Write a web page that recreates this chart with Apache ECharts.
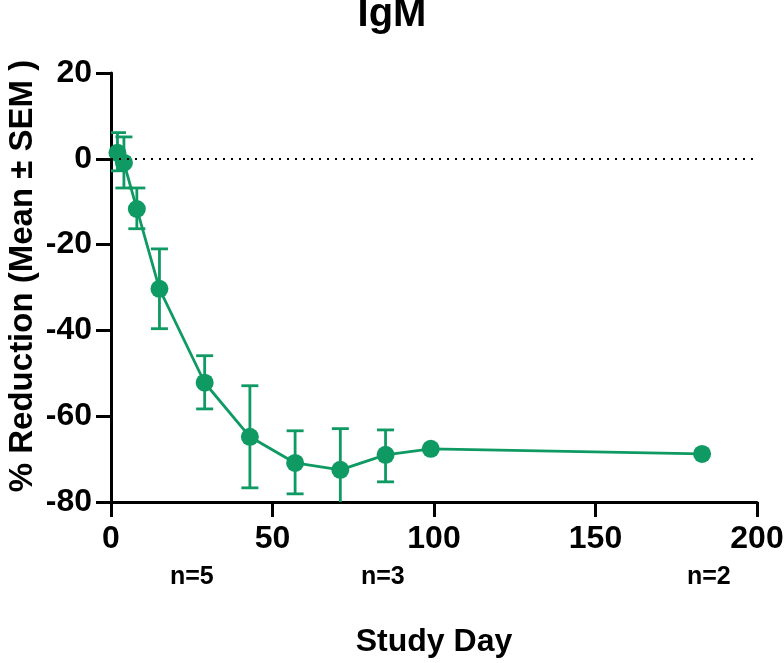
<!DOCTYPE html>
<html>
<head>
<meta charset="utf-8">
<title>IgM</title>
<script src="https://cdn.jsdelivr.net/npm/echarts@6/dist/echarts.min.js"></script>
<style>
  html, body { margin: 0; padding: 0; background: #fff; }
  #chart { width: 784px; height: 663px; }
</style>
</head>
<body>
<div id="chart"></div>
<script>
// study days and % reduction (mean, mean+SEM, mean-SEM)
var days = [2, 4, 8, 15, 29, 43, 57, 71, 85, 99, 183];
var mean = [1.4, -0.9, -11.7, -30.3, -52.2, -64.8, -70.9, -72.5, -69.0, -67.6, -68.8];
var upper = [6.1, 5.1, -6.8, -21.0, -45.9, -52.9, -63.4, -62.9, -63.2, null, null];
var lower = [-2.8, -6.8, -16.3, -39.6, -58.3, -76.7, -78.1, -82.0, -75.3, null, null];
var xTicks = [0, 50, 100, 150, 200];
var yTicks = [-80, -60, -40, -20, 0, 20];
var nLabels = ["n=5", "n=3", "n=2"];

var green = "#0f9a63";
var font = "'Liberation Sans', Arial, sans-serif";

var lineData = [];
var errData = [];
$each = function (arr, fn) { for (var i = 0; i < arr.length; i++) fn(i, arr[i]); };
$each(days, function (i, d) {
    lineData.push([d, mean[i]]);
    if (upper[i] != null) errData.push([d, lower[i], upper[i]]);
});

function renderErr(params, api) {
    var x = api.value(0);
    var lo = api.coord([x, api.value(1)]);
    var hi = api.coord([x, api.value(2)]);
    var cap = 8.5;
    var st = { stroke: green, lineWidth: 2.8 };
    return {
        type: "group",
        children: [
            { type: "line", shape: { x1: lo[0], y1: lo[1], x2: hi[0], y2: hi[1] }, style: st },
            { type: "line", shape: { x1: hi[0] - cap, y1: hi[1], x2: hi[0] + cap, y2: hi[1] }, style: st },
            { type: "line", shape: { x1: lo[0] - cap, y1: lo[1], x2: lo[0] + cap, y2: lo[1] }, style: st }
        ]
    };
}

var chart = echarts.init(document.getElementById("chart"));
var option = {
    animation: false,
    title: {
        text: "IgM",
        left: "center",
        top: -10,
        textStyle: { fontFamily: font, fontWeight: "bold", fontSize: 40, color: "#000" }
    },
    grid: { left: 111, right: 27, top: 73, bottom: 161, outerBoundsMode: "none", containLabel: false },
    xAxis: {
        type: "value",
        min: xTicks[0],
        max: xTicks[xTicks.length - 1],
        interval: 50,
        name: "Study Day",
        nameLocation: "middle",
        nameGap: 124,
        nameTextStyle: { fontFamily: font, fontWeight: "bold", fontSize: 32, color: "#000" },
        axisLine: { onZero: false, lineStyle: { color: "#000", width: 3 } },
        axisTick: { length: 15, lineStyle: { color: "#000", width: 3 } },
        axisLabel: { margin: 21, fontFamily: font, fontWeight: "bold", fontSize: 32, color: "#000" },
        splitLine: { show: false }
    },
    yAxis: {
        type: "value",
        min: yTicks[0],
        max: yTicks[yTicks.length - 1],
        interval: 20,
        axisLine: { show: true, lineStyle: { color: "#000", width: 3 } },
        axisTick: { show: true, length: 15, lineStyle: { color: "#000", width: 3 } },
        axisLabel: { margin: 19, fontFamily: font, fontWeight: "bold", fontSize: 32, color: "#000" },
        splitLine: { show: false }
    },
    series: [
        {
            type: "line",
            data: [],
            z: 1,
            markLine: {
                silent: true,
                symbol: "none",
                label: { show: false },
                lineStyle: { color: "#000", type: [2, 6], width: 2 },
                data: [[{ coord: [0, 0] }, { coord: [200, 0] }]]
            }
        },
        {
            type: "custom",
            renderItem: renderErr,
            data: errData,
            clip: true,
            z: 3
        },
        {
            type: "line",
            data: lineData,
            symbol: "circle",
            symbolSize: 18,
            itemStyle: { color: green },
            lineStyle: { color: green, width: 2.8 },
            z: 4
        }
    ],
    graphic: [
        {
            type: "text", x: 23, y: 276, rotation: Math.PI / 2,
            style: { text: "% Reduction (Mean \u00b1 SEM )", font: "bold 33px " + font, fill: "#000", align: "center", verticalAlign: "middle" }
        },
        { type: "text", left: 170, top: 565, style: { text: nLabels[0], font: "bold 25px " + font, fill: "#000" } },
        { type: "text", left: 361, top: 565, style: { text: nLabels[1], font: "bold 25px " + font, fill: "#000" } },
        { type: "text", left: 687, top: 565, style: { text: nLabels[2], font: "bold 25px " + font, fill: "#000" } }
    ]
};
chart.setOption(option);
</script>
</body>
</html>
